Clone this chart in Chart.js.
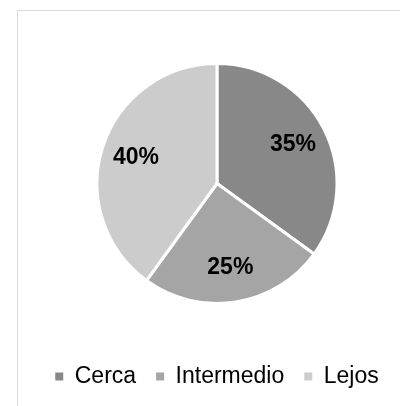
<!DOCTYPE html>
<html lang="es">
<head>
<meta charset="UTF-8" />
<title>Distancia</title>
<script src="https://cdn.jsdelivr.net/npm/chart.js@4.4.0/dist/chart.umd.min.js"></script>
<style>
  html, body { margin: 0; padding: 0; background: #fff; overflow: hidden; }
  #wrap { position: relative; width: 400px; height: 406px; }
  #frame { position: absolute; left: 17px; top: 10px; width: 500px; height: 500px; border: 1px solid #d9d9d9; box-sizing: border-box; }
  #pie { position: absolute; left: 0; top: 0; }
</style>
</head>
<body>
<div id="wrap">
  <div id="frame"></div>
  <canvas id="pie" width="400" height="406"></canvas>
</div>
<script>
  const categories = ['Cerca', 'Intermedio', 'Lejos'];
  const percents = [35, 25, 40];
  const sliceColors = ['#888888', '#a5a5a5', '#cccccc'];

  // percentage text in the middle of each slice
  const sliceLabels = {
    id: 'sliceLabels',
    afterDatasetsDraw(chart) {
      const ctx = chart.ctx;
      const meta = chart.getDatasetMeta(0);
      ctx.save();
      ctx.font = 'bold 23px "Liberation Sans", Arial, sans-serif';
      ctx.fillStyle = '#000';
      ctx.textAlign = 'center';
      ctx.textBaseline = 'middle';
      meta.data.forEach((arc, i) => {
        const mid = (arc.startAngle + arc.endAngle) / 2;
        const r = arc.outerRadius * 0.71;
        ctx.fillText(percents[i] + '%', arc.x + Math.cos(mid) * r, arc.y + Math.sin(mid) * r);
      });
      ctx.restore();
    }
  };

  const defaultLabels = Chart.controllers.pie.overrides.plugins.legend.labels.generateLabels;

  new Chart(document.getElementById('pie'), {
    type: 'pie',
    data: {
      labels: categories,
      datasets: [{
        data: percents,
        backgroundColor: sliceColors,
        borderColor: '#ffffff',
        borderWidth: 3,
        radius: 120
      }]
    },
    options: {
      responsive: false,
      animation: false,
      layout: { padding: { left: 34, right: 0, top: 22, bottom: 8 } },
      plugins: {
        tooltip: { enabled: false },
        legend: {
          position: 'bottom',
          align: 'center',
          labels: {
            boxWidth: 8,
            boxHeight: 8,
            padding: 20,
            color: '#000',
            font: { family: '"Liberation Sans", Arial, sans-serif', size: 23 },
            // solid squares, without the white slice border
            generateLabels(chart) {
              return defaultLabels(chart).map(item => ({ ...item, lineWidth: 0 }));
            }
          }
        }
      }
    },
    plugins: [sliceLabels]
  });
</script>
</body>
</html>
